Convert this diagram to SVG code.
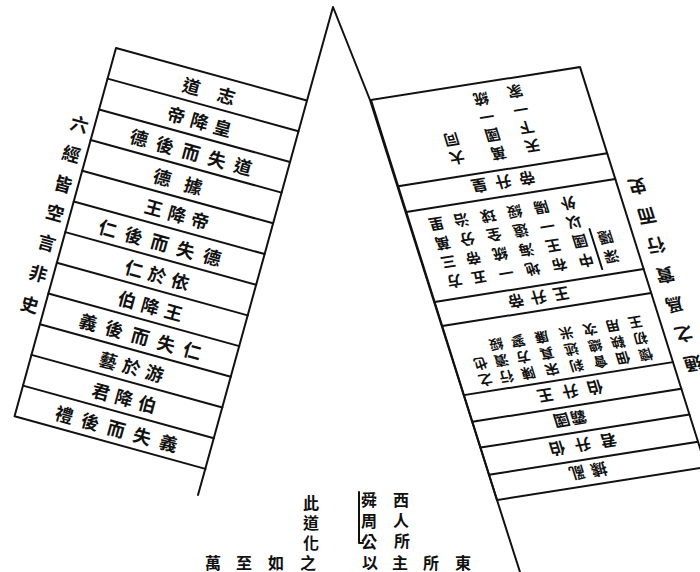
<svg xmlns="http://www.w3.org/2000/svg" width="700" height="572" viewBox="0 0 700 572">
<style>
.ln{fill:none;stroke:#111;stroke-width:2;stroke-linejoin:round;stroke-linecap:round}
.t{font-family:"Noto Sans CJK TC","Noto Sans CJK SC",sans-serif;font-weight:700;fill:#111;text-anchor:middle;dominant-baseline:central}
.l{font-size:18px}
.s{font-size:16px}
.m{font-size:15px}
.c{font-size:14px}
.b{font-size:16px}
.r{font-size:18px}
</style>
<rect width="700" height="572" fill="#fff"/>
<g id="connectors">
<path class="ln" d="M198,495 L205.4,468.6 L307,100.6 L333,7 L370,100 L497,500 L520,572"/>
</g>
<g id="left-panel" transform="translate(116,48) rotate(15.4)">
<path class="ln" d="M198,0 H0 V382 H198"/>
<path class="ln" d="M0,31.8H198M0,63.7H198M0,95.5H198M0,127.3H198M0,159.2H198M0,191H198M0,222.8H198M0,254.7H198M0,286.5H198M0,318.3H198M0,350.2H198"/>
<text class="t l" x="110" y="15.9" letter-spacing="18">道志</text>
<text class="t l" x="103" y="47.7" letter-spacing="6">帝降皇</text>
<text class="t l" x="104.5" y="79.6" letter-spacing="9">德後而失道</text>
<text class="t l" x="102" y="111.4" letter-spacing="14">德據</text>
<text class="t l" x="106" y="143.2" letter-spacing="6">王降帝</text>
<text class="t l" x="98.5" y="175.1" letter-spacing="9">仁後而失德</text>
<text class="t l" x="103" y="206.9" letter-spacing="6">仁於依</text>
<text class="t l" x="104.6" y="238.7" letter-spacing="6">伯降王</text>
<text class="t l" x="104.5" y="270.6" letter-spacing="9">義後而失仁</text>
<text class="t l" x="102.6" y="302.4" letter-spacing="6">藝於游</text>
<text class="t l" x="103.7" y="334.2" letter-spacing="6">君降伯</text>
<text class="t l" x="106" y="366.1" letter-spacing="9">禮後而失義</text>
</g>
<g id="left-label" transform="translate(116,48) rotate(15.4)">
<text class="t l"><tspan x="-15" y="82">六</tspan><tspan x="-15" y="113">經</tspan><tspan x="-15" y="144">皆</tspan><tspan x="-15" y="174">空</tspan><tspan x="-15" y="205">言</tspan><tspan x="-15" y="237">非</tspan><tspan x="-15" y="269">史</tspan></text>
</g>
<g id="right-panel" transform="matrix(-0.9877,0.156,-0.3004,-0.9537,706,467)">
<rect class="ln" x="0" y="0" width="211.6" height="419.4"/>
<path class="ln" d="M0,26.5H211.6M0,55H211.6M0,82H211.6M0,110H211.6M0,182.4H211.6M0,207.6H211.6M0,302H211.6M0,329H211.6"/>
<text class="t s" x="118" y="13.5" letter-spacing="6">據亂</text>
<text class="t s" x="117" y="41" letter-spacing="10">君升伯</text>
<text class="t s" x="117" y="68.5" letter-spacing="1">霸國</text>
<text class="t s" x="112.5" y="96" letter-spacing="9">伯升王</text>
<text class="t s" x="113.5" y="195" letter-spacing="7">王升帝</text>
<text class="t s" x="113" y="316" letter-spacing="8">帝升皇</text>
<text class="t m"><tspan x="146" y="347">大</tspan><tspan x="146" y="366">同</tspan><tspan x="105" y="345">萬</tspan><tspan x="105" y="364">國</tspan><tspan x="105" y="383">一</tspan><tspan x="105" y="402">統</tspan><tspan x="70" y="347">天</tspan><tspan x="70" y="366">下</tspan><tspan x="70" y="385">一</tspan><tspan x="70" y="404">家</tspan></text>
<text class="t m"><tspan x="186" y="224">方</tspan><tspan x="186" y="244">三</tspan><tspan x="186" y="264">萬</tspan><tspan x="186" y="284">里</tspan><tspan x="161" y="224">五</tspan><tspan x="161" y="244">帝</tspan><tspan x="161" y="264">分</tspan><tspan x="161" y="284">治</tspan><tspan x="134" y="224">一</tspan><tspan x="134" y="244">統</tspan><tspan x="134" y="264">全</tspan><tspan x="134" y="284">球</tspan><tspan x="107" y="224">地</tspan><tspan x="107" y="244">海</tspan><tspan x="107" y="264">遠</tspan><tspan x="107" y="284">綏</tspan><tspan x="80" y="224">布</tspan><tspan x="80" y="244">王</tspan><tspan x="80" y="264">一</tspan><tspan x="80" y="284">陽</tspan><tspan x="53" y="224">中</tspan><tspan x="53" y="244">國</tspan><tspan x="53" y="264">以</tspan><tspan x="53" y="284">外</tspan><tspan x="27" y="224">深</tspan><tspan x="27" y="244">隱</tspan></text>
<path class="ln" d="M40,214V256" stroke-width="1.5"/>
<text class="t c"><tspan x="186" y="121">之</tspan><tspan x="186" y="138">也</tspan><tspan x="165" y="121">行</tspan><tspan x="165" y="138">瀆</tspan><tspan x="165" y="155">綏</tspan><tspan x="143" y="121">陳</tspan><tspan x="143" y="138">方</tspan><tspan x="143" y="155">寥</tspan><tspan x="119" y="121">宋</tspan><tspan x="119" y="138">真</tspan><tspan x="119" y="155">廉</tspan><tspan x="94" y="121">刹</tspan><tspan x="94" y="138">述</tspan><tspan x="94" y="155">米</tspan><tspan x="70" y="121">會</tspan><tspan x="70" y="138">總</tspan><tspan x="70" y="155">次</tspan><tspan x="47" y="121">佃</tspan><tspan x="47" y="138">鞅</tspan><tspan x="47" y="155">用</tspan><tspan x="24" y="121">懷</tspan><tspan x="24" y="138">初</tspan><tspan x="24" y="155">王</tspan></text>
</g>
<g id="right-label" transform="matrix(-0.9877,0.156,-0.3004,-0.9537,706,467)">
<text class="t r"><tspan x="-19" y="104">通</tspan><tspan x="-19" y="135">之</tspan><tspan x="-19" y="166">爲</tspan><tspan x="-19" y="197">實</tspan><tspan x="-19" y="228">行</tspan><tspan x="-19" y="259">而</tspan><tspan x="-19" y="290">史</tspan></text>
</g>
<g id="bottom-text">
<text class="t b"><tspan x="311" y="502">此</tspan><tspan x="311" y="522">道</tspan><tspan x="311" y="542">化</tspan><tspan x="308" y="562">之</tspan></text>
<text class="t b"><tspan x="369" y="499">舜</tspan><tspan x="369" y="520">周</tspan><tspan x="369" y="541">公</tspan><tspan x="370" y="562">以</tspan></text>
<text class="t b"><tspan x="401" y="499">西</tspan><tspan x="401" y="519">人</tspan><tspan x="402" y="540">所</tspan><tspan x="400" y="562">主</tspan></text>
<text class="t b"><tspan x="213" y="562">萬</tspan><tspan x="244" y="562">至</tspan><tspan x="276" y="562">如</tspan><tspan x="431" y="562">所</tspan><tspan x="463" y="562">東</tspan></text>
<path class="ln" d="M359,492V543H363" stroke-width="1.5"/>
</g>
</svg>
